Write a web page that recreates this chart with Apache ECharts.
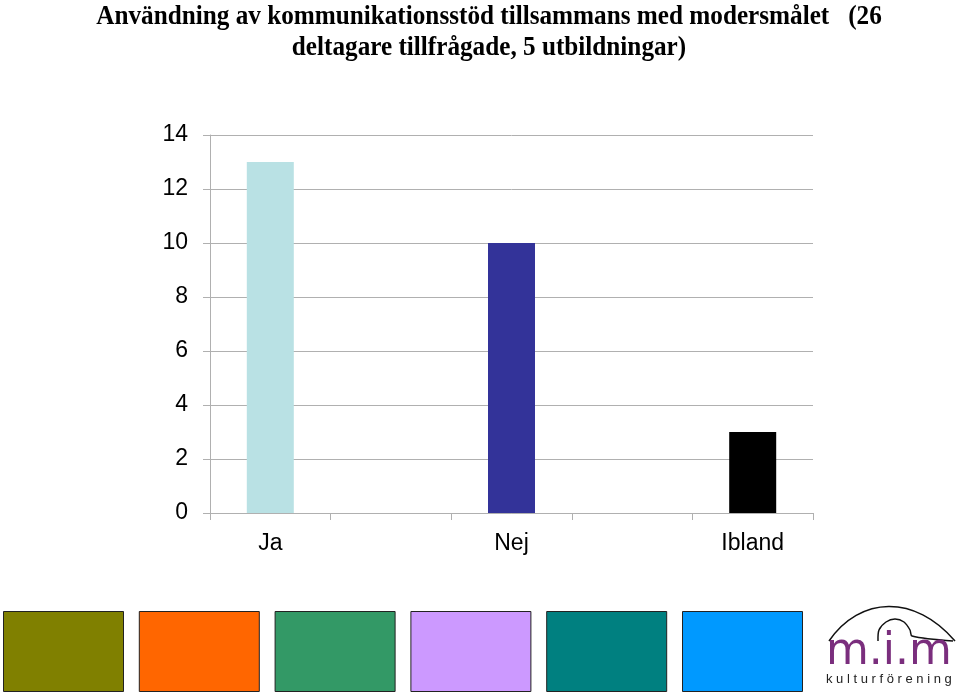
<!DOCTYPE html>
<html>
<head>
<meta charset="utf-8">
<script src="https://cdn.jsdelivr.net/npm/echarts@6/dist/echarts.min.js"></script>
<style>
  html, body { margin: 0; padding: 0; background: #fff; }
  #chart { width: 960px; height: 695px; }
</style>
</head>
<body>
<div id="chart"></div>
<script>
// data
const categories = ['Ja', '', 'Nej', '', 'Ibland']
const values = [13, null, 10, null, 3]
const barColors = ['#B9E1E4', null, '#333399', null, '#000000']
const yTicks = [0, 2, 4, 6, 8, 10, 12, 14]
const swatchColors = ['#808000', '#FF6600', '#339966', '#CC99FF', '#008080', '#0099FF']
const titleText = 'Användning av kommunikationsstöd tillsammans med modersmålet   (26\ndeltagare tillfrågade, 5 utbildningar)'

const chart = echarts.init(document.getElementById('chart'))

// title drawn as text so it can be a bit condensed like the original
const title = {
  type: 'text',
  x: 489,
  y: 1,
  scaleX: 0.9,
  style: {
    x: 0,
    y: 0,
    text: titleText,
    textAlign: 'center',
    font: 'bold 28px "Liberation Serif", "Times New Roman", serif',
    lineHeight: 31,
    fill: '#000'
  }
}

// colour boxes along the bottom
const swatches = swatchColors.map((c, i) => {
  return {
    type: 'rect',
    left: 3 + i * 135.8,
    top: 611,
    shape: { width: 120, height: 80 },
    style: { fill: c, stroke: '#222', lineWidth: 1 }
  }
})

const logo = [
  {
    type: 'bezierCurve',
    shape: { x1: 829, y1: 641, x2: 955, y2: 641, cpx1: 860, cpy1: 596, cpx2: 915, cpy2: 594 },
    style: { stroke: '#111', lineWidth: 1.5, fill: null }
  },
  {
    type: 'polyline',
    shape: { points: [[878, 641], [879, 630], [886, 622], [895, 619], [904, 622], [910, 630], [912, 636], [953, 641]], smooth: 0.3 },
    style: { stroke: '#111', lineWidth: 1.5, fill: null }
  },
  {
    type: 'text',
    left: 826,
    top: 631,
    style: { text: 'm.i.m', font: '44px "DejaVu Sans", Arial', fill: '#7A2E7D' }
  },
  {
    type: 'text',
    left: 826,
    top: 673,
    style: { text: 'k u l t u r f ö r e n i n g', font: '13px "Liberation Sans", Arial', fill: '#222' }
  }
]

const option = {
  animation: false,
  grid: { left: 210, right: 147, top: 135, bottom: 182 },
  xAxis: {
    type: 'category',
    data: categories,
    axisLine: { lineStyle: { color: '#b0b0b0', width: 1 } },
    axisTick: { show: true, interval: 0, length: 7, lineStyle: { color: '#b0b0b0' } },
    axisLabel: {
      interval: 0,
      margin: 19,
      fontFamily: '"Liberation Sans", Arial, sans-serif',
      fontSize: 23,
      color: '#000'
    }
  },
  yAxis: {
    type: 'value',
    min: yTicks[0],
    max: yTicks[yTicks.length - 1],
    interval: 2,
    axisLine: { show: true, lineStyle: { color: '#b0b0b0', width: 1 } },
    axisTick: { show: true, length: 7, lineStyle: { color: '#b0b0b0' } },
    splitLine: { lineStyle: { color: '#b0b0b0', width: 1 } },
    axisLabel: {
      margin: 22,
      fontFamily: '"Liberation Sans", Arial, sans-serif',
      fontSize: 23,
      color: '#000'
    }
  },
  series: [
    {
      type: 'bar',
      barWidth: 47,
      data: values.map((v, i) => {
        return { value: v, itemStyle: { color: barColors[i] || '#000' } }
      })
    }
  ],
  graphic: [title].concat(swatches, logo)
}

chart.setOption(option)
</script>
</body>
</html>
